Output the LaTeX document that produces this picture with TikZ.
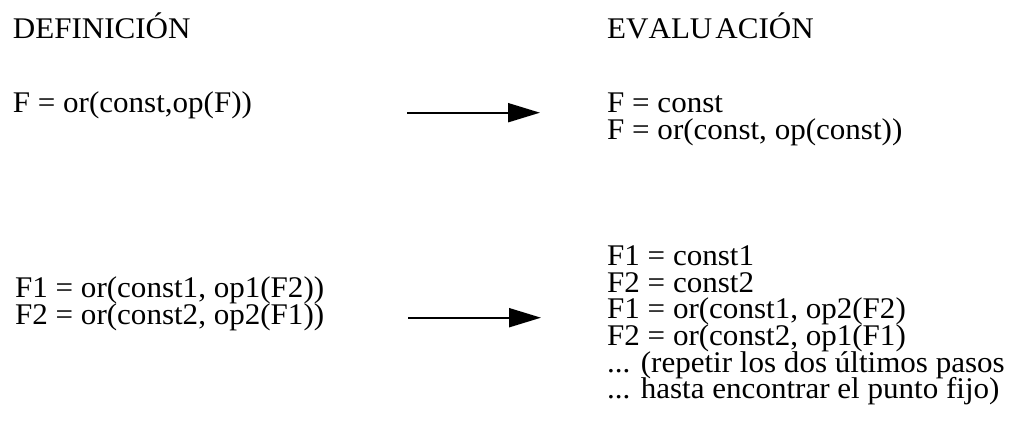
\documentclass[tikz,border=0pt]{standalone}
\usepackage{fontspec}
\setmainfont{Liberation Serif}[FakeStretch=1.035]
\usetikzlibrary{arrows.meta}
\begin{document}
\begin{tikzpicture}[x=1pt,y=1pt,
  txt/.style={anchor=base west,inner sep=0pt,font=\fontsize{30}{26.5}\selectfont},
  head/.style={txt,font=\fontsize{30}{26.5}\selectfont\addfontfeature{Kerning=Off}},
  flecha/.style={line width=2pt,-{Triangle[length=32pt,width=19pt]}}]
\useasboundingbox (0,0) rectangle (1016,428);
% column headings
\node[head] (defhead) at (12.7,389) {DEFINICIÓN};
\node[head] (evalhead) at (607,389) {EVALU\kern3pt ACIÓN};
% single definition
\node[txt] (d1) at (12.7,315) {F = or(const,op(F))};
\node[txt] (e1) at (607,315) {F = const};
\node[txt] (e2) at (607,288) {F = or(const, op(const))};
% mutually recursive definitions
\node[txt] (d2) at (15,130) {F1 = or(const1, op1(F2))};
\node[txt] (d3) at (15,103) {F2 = or(const2, op2(F1))};
\node[txt] (e3) at (607,162) {F1 = const1};
\node[txt] (e4) at (607,135.5) {F2 = const2};
\node[txt] (e5) at (607,109) {F1 = or(const1, op2(F2)};
\node[txt] (e6) at (607,82.5) {F2 = or(const2, op1(F1)};
\node[txt] (e7) at (607,56) {... (repetir los dos últimos pasos};
\node[txt] (e8) at (607,29.5) {... hasta encontrar el punto fijo)};
% arrows
\coordinate (a1s) at (407,315.3);
\coordinate (a1e) at (540,315.3);
\coordinate (a2s) at (408,110.3);
\coordinate (a2e) at (541,110.3);
\draw[flecha] (a1s) -- (a1e);
\draw[flecha] (a2s) -- (a2e);
\end{tikzpicture}
\end{document}
